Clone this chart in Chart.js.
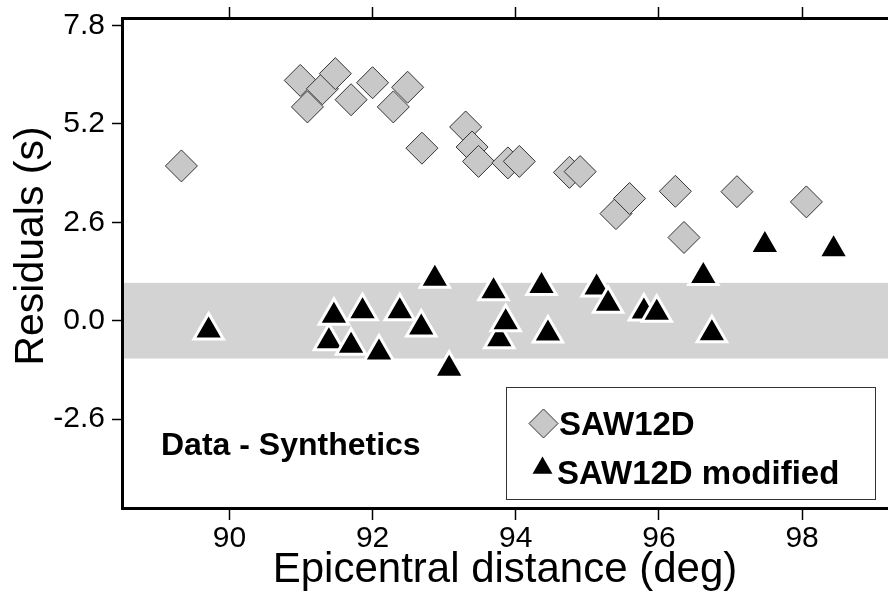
<!DOCTYPE html>
<html>
<head>
<meta charset="utf-8">
<script src="https://cdn.jsdelivr.net/npm/chart.js@4.4.0/dist/chart.umd.min.js"></script>
<style>
  html, body { margin: 0; padding: 0; background: #fff; }
  canvas { display: block; }
</style>
</head>
<body>
<canvas id="resid" width="888" height="600"></canvas>
<script>
// SAW12D residuals (grey diamonds), sorted by distance
const sawDist = [89.33, 90.99, 91.09, 91.30, 91.48, 91.70, 92.00, 92.29, 92.49, 92.69, 93.30, 93.39,
                 93.48, 93.89, 94.05, 94.75, 94.90, 95.40, 95.59, 96.23, 96.35, 97.09, 98.06];
const sawRes  = [4.09, 6.35, 5.65, 6.13, 6.53, 5.84, 6.29, 5.65, 6.17, 4.56, 5.12, 4.59,
                 4.21, 4.17, 4.21, 3.92, 3.94, 2.83, 3.23, 3.42, 2.20, 3.41, 3.14];

// SAW12D modified residuals (black triangles)
const modDist = [89.71, 91.39, 91.46, 91.70, 91.86, 92.09, 92.38, 92.68, 92.87, 93.07, 93.69, 93.77,
                 93.86, 94.36, 94.45, 95.13, 95.29, 95.79, 95.97, 96.62, 96.74, 97.48, 98.44];
const modRes  = [-0.26, -0.54, 0.13, -0.66, 0.25, -0.84, 0.25, -0.18, 1.11, -1.27, 0.78, -0.49,
                 -0.04, 0.92, -0.34, 0.88, 0.45, 0.24, 0.21, 1.18, -0.33, 2.00, 1.89];

const xTicks = [90, 92, 94, 96, 98];
const yTicks = [-2.6, 0.0, 2.6, 5.2, 7.8];
const band = [-1.0, 1.0];              // +/- 1 s shaded zone
const seriesNames = ['SAW12D', 'SAW12D modified'];
const note = 'Data - Synthetics';
const xTitle = 'Epicentral distance (deg)';
const yTitle = 'Residuals (s)';

const FONT = "'Liberation Sans', Arial, Helvetica, sans-serif";
const GREY = '#c8c8c8';

Chart.defaults.color = '#000';
Chart.defaults.font.family = FONT;

function toPoints(xs, ys) {
  return xs.map((x, i) => ({ x: x, y: ys[i] }));
}

// pin an axis to a fixed thickness and drop label padding
function fixSize(prop, size) {
  return function (scale) {
    scale[prop] = size;
    scale.paddingTop = 0; scale.paddingBottom = 0;
    scale.paddingLeft = 0; scale.paddingRight = 0;
  };
}

function setTicks(values) {
  return function (scale) {
    scale.ticks = values.map(v => ({ value: v }));
  };
}

function diamond(ctx, x, y, r) {
  ctx.beginPath();
  ctx.moveTo(x - r, y); ctx.lineTo(x, y - r);
  ctx.lineTo(x + r, y); ctx.lineTo(x, y + r);
  ctx.closePath();
}

function triangle(ctx, x, y, r) {
  ctx.beginPath();
  ctx.moveTo(x, y - r);
  ctx.lineTo(x + r * Math.sqrt(3) / 2, y + r / 2);
  ctx.lineTo(x - r * Math.sqrt(3) / 2, y + r / 2);
  ctx.closePath();
}

const decor = {
  id: 'decor',
  beforeDraw(chart) {
    const { ctx, chartArea: a, scales: { y } } = chart;
    const top = y.getPixelForValue(band[1]);
    const bot = y.getPixelForValue(band[0]);
    ctx.save();
    ctx.fillStyle = '#d3d3d3';
    ctx.fillRect(a.left, top, a.right - a.left, bot - top);
    ctx.restore();
  },
  afterDraw(chart) {
    const ctx = chart.ctx;
    ctx.save();

    // legend box
    ctx.fillStyle = '#fff';
    ctx.fillRect(506, 387, 369, 112);
    ctx.strokeStyle = '#333';
    ctx.lineWidth = 1;
    ctx.strokeRect(506.5, 387.5, 369, 112);

    diamond(ctx, 543.5, 423.5, 14.5);
    ctx.fillStyle = GREY;
    ctx.fill();
    ctx.strokeStyle = '#333';
    ctx.stroke();

    triangle(ctx, 542.5, 468, 11.5);
    ctx.fillStyle = '#000';
    ctx.fill();

    ctx.font = 'bold 33px ' + FONT;
    ctx.textAlign = 'left';
    ctx.textBaseline = 'alphabetic';
    ctx.fillText(seriesNames[0], 559, 435);
    ctx.fillText(seriesNames[1], 557, 484);

    ctx.font = 'bold 32px ' + FONT;
    ctx.fillText(note, 161, 455);

    // vertical axis title
    ctx.translate(43, 246);
    ctx.rotate(-Math.PI / 2);
    ctx.textAlign = 'center';
    ctx.font = '41px ' + FONT;
    ctx.fillText(yTitle, 0, 0);

    ctx.restore();
  }
};

new Chart(document.getElementById('resid'), {
  type: 'scatter',
  data: {
    datasets: [
      {
        label: seriesNames[0],
        data: toPoints(sawDist, sawRes),
        pointStyle: 'rectRot',
        pointRadius: 16,
        pointBackgroundColor: GREY,
        pointBorderColor: '#333',
        pointBorderWidth: 1
      },
      {
        label: seriesNames[1],
        data: toPoints(modDist, modRes),
        pointStyle: 'triangle',
        pointRadius: 17,
        pointBackgroundColor: '#000',
        pointBorderColor: '#fff',
        pointBorderWidth: 3
      }
    ]
  },
  options: {
    responsive: false,
    animation: false,
    events: [],
    layout: { padding: 0, autoPadding: false },
    plugins: { legend: { display: false }, tooltip: { enabled: false } },
    scales: {
      x: {
        type: 'linear',
        position: 'bottom',
        min: 88.5,
        max: 99.2,
        afterBuildTicks: setTicks(xTicks),
        afterFit: fixSize('height', 92),
        grid: { drawOnChartArea: false, tickLength: 12, tickColor: '#000', tickWidth: 1.5 },
        border: { color: '#000', width: 3 },
        ticks: { font: { size: 30 }, padding: 1, maxRotation: 0, callback: v => String(v) },
        title: { display: true, text: xTitle, font: { size: 42 }, padding: { top: 0, bottom: 4 } }
      },
      x2: {
        type: 'linear',
        position: 'top',
        min: 88.5,
        max: 99.2,
        afterBuildTicks: setTicks(xTicks),
        afterFit: fixSize('height', 18),
        grid: { drawOnChartArea: false, tickLength: 11, tickColor: '#000', tickWidth: 1.5 },
        border: { color: '#000', width: 3 },
        ticks: { display: false }
      },
      y: {
        type: 'linear',
        position: 'left',
        min: -4.95,
        max: 8.0,
        afterBuildTicks: setTicks(yTicks),
        afterFit: fixSize('width', 122),
        grid: { drawOnChartArea: false, tickLength: 10, tickColor: '#000', tickWidth: 1.5 },
        border: { color: '#000', width: 3 },
        ticks: { font: { size: 30 }, padding: 7, callback: v => v.toFixed(1) }
      }
    }
  },
  plugins: [decor]
});
</script>
</body>
</html>
